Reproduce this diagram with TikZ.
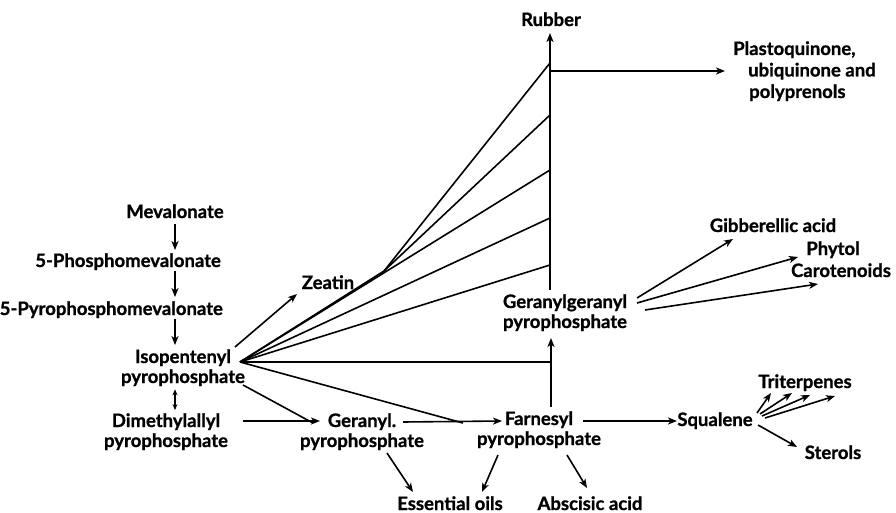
\documentclass[tikz,border=0pt]{standalone}
\usepackage{fontspec}
\setmainfont{Lato}[BoldFeatures={FakeBold=1}]
\usetikzlibrary{arrows.meta}

\tikzset{
    lbl/.style={font=\bfseries\fontsize{18.5}{20}\selectfont, inner sep=1pt, align=center, anchor=base},
    ln/.style={line width=1.6pt},
    arr/.style={ln, -{Stealth[length=9pt,width=7pt,inset=2.5pt]}},
    dbl/.style={ln, {Stealth[length=6pt,width=5pt]}-{Stealth[length=6pt,width=5pt]}}
}

\begin{document}
\begin{tikzpicture}[x=1pt,y=-1pt]
    \useasboundingbox (0,0) rectangle (896,513);

    % left column
    \node[lbl] (mev) at (175,218) {Mevalonate};
    \node[lbl, anchor=base east] (pmev) at (222,267) {5-Phosphomevalonate};
    \node[lbl, anchor=base east] (ppmev) at (224,315) {5-Pyrophosphomevalonate};
    \node[lbl] (ipp) at (183,383) {Isopentenyl\\pyrophosphate};
    \node[lbl] (dmapp) at (166,447) {Dimethylallyl\\pyrophosphate};

    % middle
    \node[lbl] (zeatin) at (328,289) {Zeatin};
    \node[lbl] (ger) at (362,447) {Geranyl.\\pyrophosphate};
    \node[lbl] (farn) at (539,445) {Farnesyl\\pyrophosphate};
    \node[lbl] (ggpp) at (565,328) {Geranylgeranyl\\pyrophosphate};
    \node[lbl] (rubber) at (551,26) {Rubber};
    \node[lbl, anchor=base west, align=left, font=\bfseries\fontsize{18.5}{21.5}\selectfont] (plasto) at (732,98)
        {Plastoquinone,\\\hspace*{15pt}ubiquinone and\\\hspace*{16pt}polyprenols};
    \node[lbl] (oils) at (450,510) {Essential oils};
    \node[lbl] (absc) at (590,510) {Abscisic acid};

    % right
    \node[lbl] (gib) at (773,232) {Gibberellic acid};
    \node[lbl] (phytol) at (833,255) {Phytol};
    \node[lbl] (carot) at (841,277) {Carotenoids};
    \node[lbl] (squal) at (715,426) {Squalene};
    \node[lbl] (triterp) at (805,388) {Triterpenes};
    \node[lbl] (sterols) at (833,459) {Sterols};

    % junctions
    \coordinate (fan) at ([shift={(57,-21)}]ipp.base);
    \coordinate (kink) at (384,271);
    \coordinate (j1) at (313,423);
    \coordinate (j2) at (463,423);
    \coordinate (t1) at (550,63);
    \coordinate (t2) at (550,115);
    \coordinate (t3) at (550,170);
    \coordinate (t4) at (550,218);
    \coordinate (t5) at (550,265);
    \coordinate (t6) at (550,362);
    \coordinate (br) at (550,71);

    % mevalonate pathway
    \draw[arr, shorten <=5pt, shorten >=2pt] (mev.south) -- (mev.south |- pmev.north);
    \draw[arr, shorten >=3pt] (mev.south |- pmev.south) -- (mev.south |- ppmev.north);
    \draw[arr, shorten >=3pt] (mev.south |- ppmev.south) -- (mev.south |- ipp.north);
    \draw[dbl, shorten <=2pt, shorten >=2pt] (mev.south |- ipp.south) -- (mev.south |- dmapp.north);

    % fan from isopentenyl pyrophosphate
    \draw[arr] ([shift={(52,-36)}]ipp.base) -- ([shift={(-31,5)}]zeatin.base);
    \draw[ln] (t1) -- (kink) -- (fan);
    \draw[ln] (t2) -- (kink);
    \draw[ln] (fan) -- (t3);
    \draw[ln] (fan) -- (t4);
    \draw[ln] (fan) -- (t5);
    \draw[ln] (fan) -- (t6);
    \draw[ln] (fan) -- (j2);
    \draw[ln] ([shift={(60,2)}]ipp.base) -- (j1);

    % main chain
    \draw[arr] ([shift={(77,-26)}]dmapp.base) -- ([shift={(-42,-26)}]ger.base);
    \draw[arr] ([shift={(41,-25)}]ger.base) -- ([shift={(-37,-24)}]farn.base);
    \draw[arr] ([shift={(44,-24)}]farn.base) -- ([shift={(-38,-5)}]squal.base);
    \draw[arr] ([shift={(12,-38)}]farn.base) -- ([shift={(-14,10)}]ggpp.base);
    \draw[arr, line width=1.9pt] ([shift={(-15,-38)}]ggpp.base) -- ([shift={(-1,7)}]rubber.base);
    \draw[arr] (br) -- ([shift={(-7,-27)}]plasto.base west);

    % products
    \draw[arr] ([shift={(72,-30)}]ggpp.base) -- ([shift={(-40,7)}]gib.base);
    \draw[arr] ([shift={(72,-25)}]ggpp.base) -- ([shift={(-35,2)}]phytol.base);
    \draw[arr] ([shift={(80,-18)}]ggpp.base) -- ([shift={(-23,7)}]carot.base);
    \draw[arr] ([shift={(42,-13)}]squal.base) -- ([shift={(-34,5)}]triterp.base);
    \draw[arr] ([shift={(45,-12)}]squal.base) -- ([shift={(-13,5)}]triterp.base);
    \draw[arr] ([shift={(47,-10)}]squal.base) -- ([shift={(5,7)}]triterp.base);
    \draw[arr] ([shift={(50,-8)}]squal.base) -- ([shift={(30,8)}]triterp.base);
    \draw[arr] ([shift={(43,-1)}]squal.base) -- ([shift={(-36,-12)}]sterols.base);
    \draw[arr] ([shift={(25,6)}]ger.base) -- ([shift={(-37,-18)}]oils.base);
    \draw[arr] ([shift={(-41,10)}]farn.base) -- ([shift={(32,-18)}]oils.base);
    \draw[arr] ([shift={(28,10)}]farn.base) -- ([shift={(-3,-22)}]absc.base);

\end{tikzpicture}
\end{document}
